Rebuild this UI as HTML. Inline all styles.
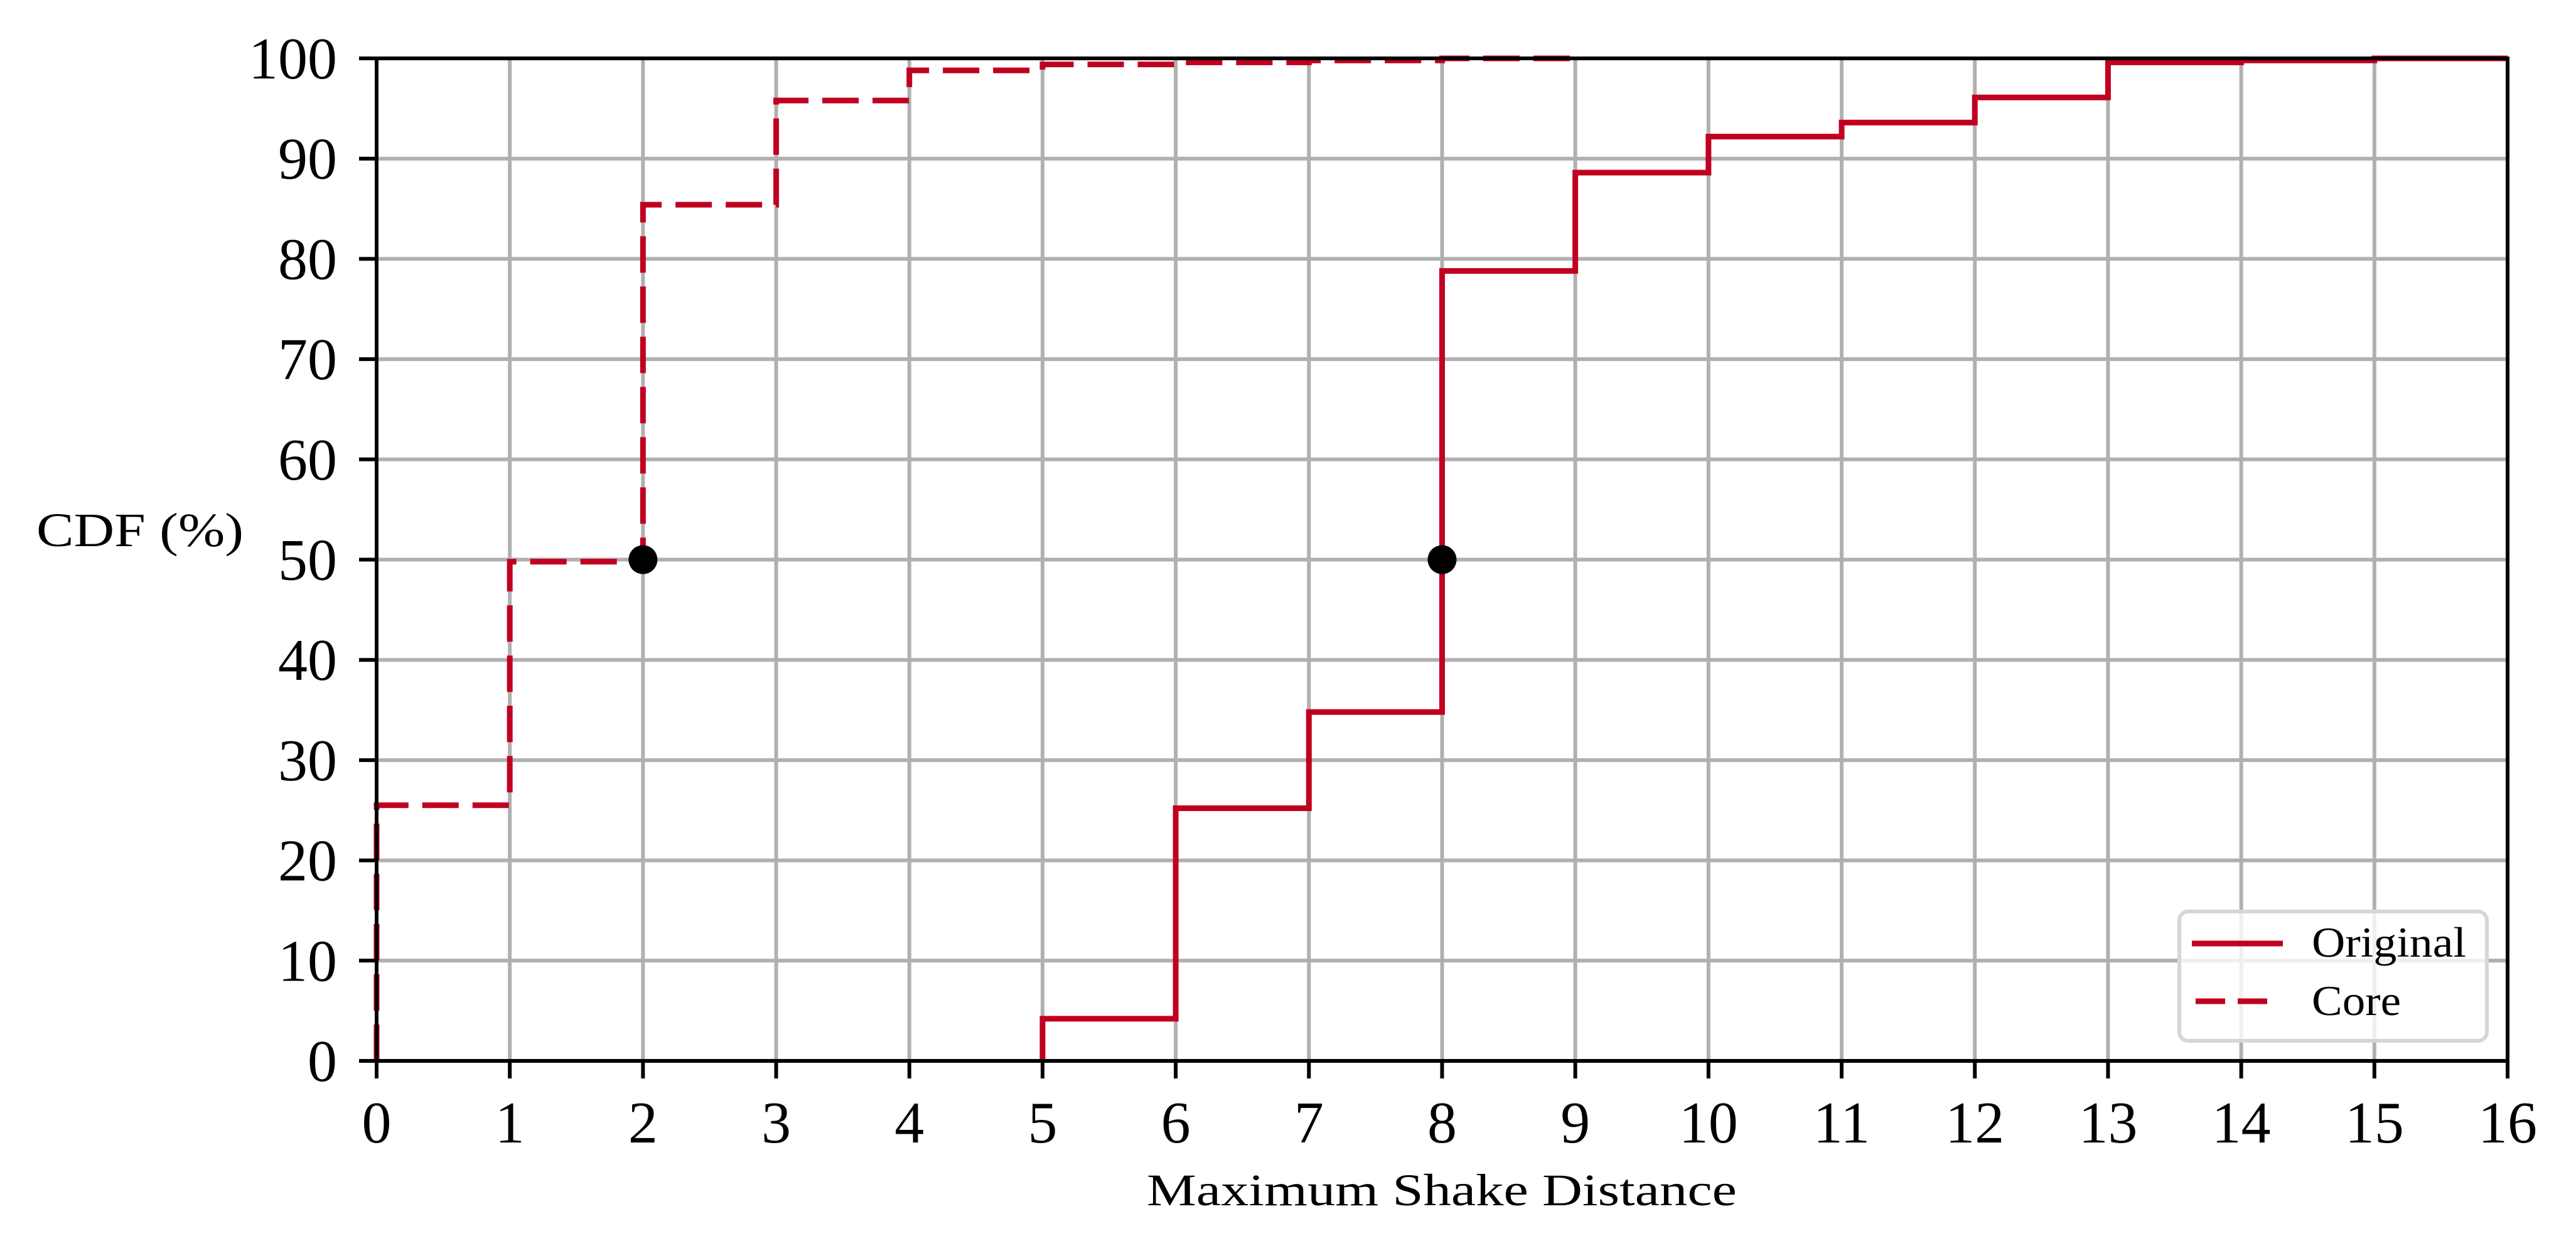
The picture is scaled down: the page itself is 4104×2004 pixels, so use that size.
<!DOCTYPE html>
<html><head><meta charset="utf-8"><style>
html,body{margin:0;padding:0;background:#fff;}
svg{display:block;}
text{font-family:"Liberation Serif",serif;fill:#000;}
</style></head><body>
<svg id="chart" width="4104" height="2004" viewBox="0 0 4104 2004" xmlns="http://www.w3.org/2000/svg">
<rect width="4104" height="2004" fill="#fff"/>
<g id="grid"></g>
<g id="series"></g>
<g id="axes"></g>
<text x="58" y="870" font-size="76" textLength="330" lengthAdjust="spacingAndGlyphs">CDF (%)</text>
<text x="2297" y="1920" font-size="72" text-anchor="middle" textLength="940" lengthAdjust="spacingAndGlyphs">Maximum Shake Distance</text>
<g>
<rect x="3472" y="1452" width="490" height="206" rx="14" fill="#fff" fill-opacity="0.8" stroke="#d6d6d6" stroke-width="6"/>
<line x1="3492" y1="1503" x2="3637" y2="1503" stroke="#c00020" stroke-width="9"/>
<text x="3683" y="1524" font-size="68" textLength="246" lengthAdjust="spacingAndGlyphs">Original</text>
<line x1="3498" y1="1595" x2="3632" y2="1595" stroke="#c00020" stroke-width="9" stroke-dasharray="47,20"/>
<text x="3683" y="1617" font-size="68" textLength="142" lengthAdjust="spacingAndGlyphs">Core</text>
</g>
</svg>
<script>
const xTicks=[0,1,2,3,4,5,6,7,8,9,10,11,12,13,14,15,16];
const yTicks=[0,10,20,30,40,50,60,70,80,90,100];
const coreX=[0,1,2,3,4,5,6,7,8,9];
const coreY=[25.5,49.8,85.4,95.8,98.8,99.4,99.6,99.8,100,100];
const origX=[5,6,7,8,9,10,11,12,13,14,15,16];
const origY=[4.2,25.2,34.8,78.8,88.6,92.2,93.6,96.1,99.6,99.8,100,100];
const medianX=[2,8];
const medianY=[50,50];

const L=600,R=3995,T=93,B=1690;
const sx=v=>L+(v-0)/(16-0)*(R-L);
const sy=v=>B-(v-0)/(100-0)*(B-T);
const NS='http://www.w3.org/2000/svg';
function mk(tag,parent,attrs){const e=document.createElementNS(NS,tag);for(const k in attrs)e.setAttribute(k,attrs[k]);parent.appendChild(e);return e;}
const grid=document.getElementById('grid'),axes=document.getElementById('axes'),series=document.getElementById('series');
xTicks.forEach(t=>{
 const g=mk('line',grid,{x1:sx(t),x2:sx(t),y1:T,y2:B,stroke:'#b0b0b0','stroke-width':6});
 
 
 const tk=mk('line',axes,{x1:sx(t),x2:sx(t),y1:B,y2:B+28,stroke:'#000','stroke-width':6});
 
 
 const tx=mk('text',axes,{x:sx(t),y:1820,'font-size':94,'text-anchor':'middle'});
 tx.textContent=t;
 
 
});
yTicks.forEach(t=>{
 const g=mk('line',grid,{x1:L,x2:R,y1:sy(t),y2:sy(t),stroke:'#b0b0b0','stroke-width':6});
 
 
 const tk=mk('line',axes,{x1:L-28,x2:L,y1:sy(t),y2:sy(t),stroke:'#000','stroke-width':6});
 
 
 const tx=mk('text',axes,{x:537,y:sy(t)+32,'font-size':94,'text-anchor':'end'});
 tx.textContent=t;
 
 
});
const frame=mk('rect',axes,{x:L,y:T,width:R-L,height:B-T,fill:'none',stroke:'#000','stroke-width':6});


function stepPath(xs,ys){
 let d='M'+sx(xs[0])+','+sy(0);
 for(let i=0;i<xs.length;i++){
  d+=' L'+sx(xs[i])+','+sy(ys[i]);
  if(i+1<xs.length)d+=' L'+sx(xs[i+1])+','+sy(ys[i]);
 }
 return d;
}
const pc=mk('path',series,{d:stepPath(coreX,coreY),fill:'none',stroke:'#c00020','stroke-width':9,'stroke-dasharray':'58,22'});


const po=mk('path',series,{d:stepPath(origX,origY),fill:'none',stroke:'#c00020','stroke-width':9});


medianX.forEach((x,i)=>{
 const c=mk('circle',series,{cx:sx(x),cy:sy(medianY[i]),r:23,fill:'#000'});
 
 
});
</script>
</body></html>
